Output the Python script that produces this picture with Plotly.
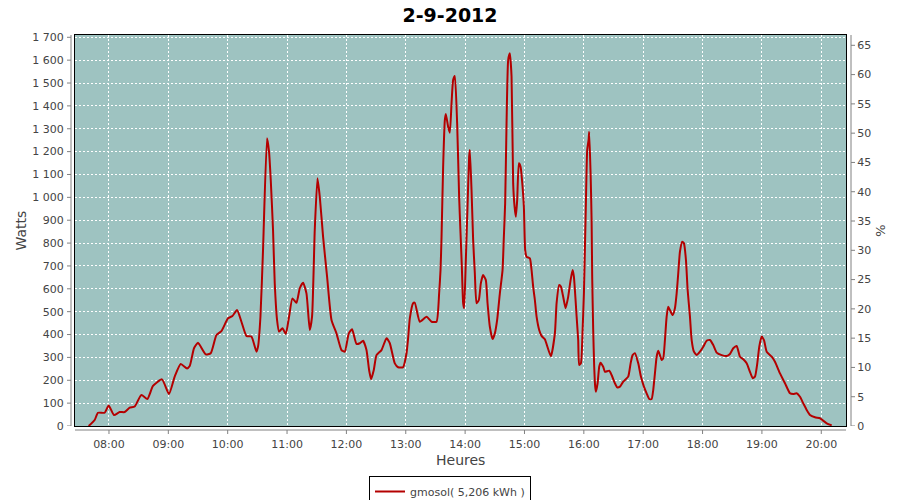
import plotly.graph_objects as go

# ---------------- data ----------------
day = "2012-09-02"
times = [
    "07:39:28", "07:45:32", "07:48:53", "07:55:39", "07:59:42", "08:05:04", "08:10:49", "08:15:53", "08:20:56", "08:25:59",
    "08:32:46", "08:38:50", "08:44:30", "08:53:36", "09:00:41", "09:06:26", "09:12:31", "09:18:53", "09:21:37", "09:25:58",
    "09:30:00", "09:37:47", "09:42:51", "09:48:37", "09:53:40", "10:00:20", "10:04:47", "10:09:27", "10:13:54", "10:18:57",
    "10:24:01", "10:29:04", "10:30:41", "10:33:07", "10:35:44", "10:39:47", "10:41:48", "10:43:32", "10:45:51", "10:47:34",
    "10:49:54", "10:51:55", "10:55:22", "10:58:42", "11:02:02", "11:05:28", "11:09:31", "11:12:51", "11:16:11", "11:19:38",
    "11:22:58", "11:25:17", "11:28:01", "11:30:45", "11:33:05", "11:36:25", "11:40:28", "11:44:55", "11:49:58", "11:55:02",
    "11:58:22", "12:02:25", "12:05:44", "12:10:11", "12:13:32", "12:16:52", "12:20:18", "12:22:56", "12:24:58", "12:27:41",
    "12:30:25", "12:35:29", "12:40:32", "12:43:52", "12:48:56", "12:52:16", "12:57:19", "13:00:46", "13:02:23", "13:04:06",
    "13:07:26", "13:09:09", "13:14:13", "13:20:59", "13:26:03", "13:31:06", "13:33:44", "13:35:09", "13:36:10", "13:37:47",
    "13:39:30", "13:40:31", "13:42:50", "13:44:33", "13:46:16", "13:47:53", "13:49:36", "13:51:56", "13:53:57", "13:55:22",
    "13:56:41", "13:58:00", "13:59:00", "14:00:43", "14:02:26", "14:04:04", "14:04:46", "14:06:29", "14:08:07", "14:09:49",
    "14:11:33", "14:13:52", "14:15:53", "14:18:13", "14:20:57", "14:22:40", "14:25:00", "14:27:44", "14:30:03", "14:32:23",
    "14:35:07", "14:37:50", "14:39:10", "14:40:28", "14:41:53", "14:43:31", "14:45:13", "14:46:56", "14:48:34", "14:49:59",
    "14:51:17", "14:52:37", "14:54:20", "14:56:03", "14:58:04", "14:59:23", "15:00:42", "15:02:07", "15:05:27", "15:07:10",
    "15:08:47", "15:10:31", "15:12:14", "15:14:52", "15:17:17", "15:20:37", "15:26:41", "15:30:44", "15:32:28", "15:35:05",
    "15:36:48", "15:39:08", "15:41:34", "15:44:11", "15:46:37", "15:48:38", "15:49:57", "15:52:41", "15:54:18", "15:55:19",
    "15:57:02", "15:58:45", "16:00:04", "16:01:04", "16:02:05", "16:03:24", "16:04:49", "16:05:25", "16:06:50", "16:07:51",
    "16:08:27", "16:09:28", "16:10:29", "16:11:29", "16:12:11", "16:13:55", "16:15:32", "16:16:57", "16:19:35", "16:21:18",
    "16:25:39", "16:28:04", "16:31:25", "16:33:44", "16:36:28", "16:39:49", "16:44:52", "16:47:17", "16:49:19", "16:51:38",
    "16:54:59", "16:57:43", "17:00:44", "17:03:28", "17:06:06", "17:08:32", "17:10:09", "17:11:52", "17:13:35", "17:15:12",
    "17:16:55", "17:18:38", "17:20:16", "17:21:59", "17:23:42", "17:25:19", "17:27:02", "17:29:46", "17:32:05", "17:33:49",
    "17:35:26", "17:37:09", "17:39:28", "17:41:11", "17:43:13", "17:44:56", "17:47:16", "17:48:59", "17:51:18", "17:54:02",
    "17:57:22", "18:00:43", "18:04:09", "18:07:29", "18:10:49", "18:14:16", "18:19:19", "18:24:23", "18:27:43", "18:31:03",
    "18:34:29", "18:37:50", "18:41:10", "18:44:36", "18:47:56", "18:50:40", "18:52:59", "18:55:19", "18:57:20", "18:59:46",
    "19:02:05", "19:04:49", "19:09:53", "19:13:13", "19:18:16", "19:23:20", "19:28:23", "19:31:44", "19:35:10", "19:38:30",
    "19:41:50", "19:45:17", "19:48:37", "19:53:40", "19:58:44", "20:02:04", "20:05:31", "20:10:34",
]
watts = [
    0, 26, 58, 58, 90, 48, 61, 61, 80, 85,
    136, 118, 175, 204, 140, 216, 271, 252, 262, 340,
    364, 313, 318, 398, 415, 471, 481, 507, 456, 394,
    391, 325, 347, 478, 770, 1258, 1200, 1076, 857, 624,
    464, 413, 427, 402, 478, 558, 539, 602, 627, 580,
    420, 478, 857, 1083, 1003, 828, 653, 464, 405, 332,
    325, 405, 423, 359, 362, 373, 332, 245, 205, 245,
    310, 332, 384, 362, 274, 257, 257, 318, 384, 471,
    537, 539, 456, 478, 456, 456, 580, 682, 828, 1134,
    1338, 1365, 1309, 1283, 1411, 1513, 1531, 1324, 1003, 843,
    697, 537, 515, 726, 959, 1178, 1207, 1032, 813, 668,
    537, 551, 624, 660, 638, 537, 434, 380, 405, 464,
    580, 682, 828, 974, 1324, 1600, 1630, 1528, 1061, 959,
    915, 988, 1149, 1134, 1047, 959, 770, 740, 733, 682,
    609, 551, 478, 420, 394, 379, 305, 405, 537, 617,
    610, 565, 515, 565, 638, 682, 653, 480, 376, 267,
    274, 420, 580, 770, 974, 1207, 1251, 1287, 1105, 901,
    653, 420, 259, 172, 150, 187, 259, 277, 259, 237,
    242, 223, 187, 169, 172, 194, 216, 274, 310, 318,
    274, 216, 172, 143, 118, 118, 157, 230, 303, 329,
    310, 289, 296, 376, 478, 522, 507, 485, 515, 580,
    668, 762, 806, 799, 726, 595, 478, 376, 325, 310,
    325, 347, 373, 376, 354, 321, 310, 306, 315, 340,
    350, 303, 292, 274, 237, 209, 216, 274, 347, 391,
    376, 325, 303, 281, 230, 187, 143, 140, 143, 128,
    99, 70, 48, 38, 34, 23, 12, 3,
]
series_name = "gmosol( 5,206 kWh )"
chart_title = "2-9-2012"

hour_ticks = ["08:00", "09:00", "10:00", "11:00", "12:00", "13:00", "14:00",
              "15:00", "16:00", "17:00", "18:00", "19:00", "20:00"]
watt_ticks = [0, 100, 200, 300, 400, 500, 600, 700, 800, 900, 1000,
              1100, 1200, 1300, 1400, 1500, 1600, 1700]
watt_tick_labels = ["0", "100", "200", "300", "400", "500", "600", "700", "800", "900",
                    "1 000", "1 100", "1 200", "1 300", "1 400", "1 500", "1 600", "1 700"]
pct_ticks = [0, 5, 10, 15, 20, 25, 30, 35, 40, 45, 50, 55, 60, 65]
pct_tick_labels = [str(v) for v in pct_ticks]

x_range = [day + " 07:25:40", day + " 20:25:00"]
watt_range = [0, 1710]
pct_range = [0, 66.76]

# ---------------- layout geometry ----------------
W, H = 900, 500
L, R, T, B = 75, 54, 35, 74
PW, PH = W - L - R, H - T - B

def px_x(p):
    return (p - L) / PW

def px_y(p):
    return (H - B - p) / PH

BG = "#9EC3C1"
LINE = "#B40000"
AX = "#808080"
TXT = "#444444"
FONT = "DejaVu Sans"

x_vals = [day + " " + t for t in times]

fig = go.Figure()
fig.add_trace(go.Scatter(
    x=x_vals, y=watts, mode="lines", name=series_name,
    line=dict(color=LINE, width=2, shape="spline", smoothing=0.5),
    yaxis="y",
))
# invisible trace bound to the % axis so it renders
fig.add_trace(go.Scatter(x=[x_vals[0]], y=[0], yaxis="y2", mode="lines",
                         showlegend=False, hoverinfo="skip",
                         line=dict(color="rgba(0,0,0,0)")))

shapes = []
shapes.append(dict(type="line", xref="paper", yref="paper", x0=px_x(71), x1=px_x(71),
                   y0=0, y1=1, line=dict(color=AX, width=1)))
shapes.append(dict(type="line", xref="paper", yref="paper", x0=0, x1=1,
                   y0=px_y(430), y1=px_y(430), line=dict(color=AX, width=1)))
shapes.append(dict(type="line", xref="paper", yref="paper", x0=px_x(851), x1=px_x(851),
                   y0=0, y1=1, line=dict(color=AX, width=1)))
for v in watt_ticks:
    shapes.append(dict(type="line", xref="paper", yref="y", x0=px_x(67), x1=px_x(71),
                       y0=v, y1=v, line=dict(color=AX, width=1)))
for v in pct_ticks:
    shapes.append(dict(type="line", xref="paper", yref="y2", x0=px_x(851), x1=px_x(855),
                       y0=v, y1=v, line=dict(color=AX, width=1)))
for h in hour_ticks:
    shapes.append(dict(type="line", xref="x", yref="paper", x0=day + " " + h, x1=day + " " + h,
                       y0=px_y(430), y1=px_y(434), line=dict(color=AX, width=1)))

fig.update_layout(
    width=W, height=H,
    margin=dict(l=L, r=R, t=T, b=B, autoexpand=False),
    paper_bgcolor="white", plot_bgcolor=BG,
    font=dict(family=FONT, size=11, color=TXT),
    title=dict(text="<b>" + chart_title + "</b>", x=0.5, xref="container", xanchor="center",
               y=1 - 15 / H, yref="container", yanchor="middle",
               font=dict(family=FONT, size=19, color="black")),
    xaxis=dict(type="date", range=x_range,
               tickvals=[day + " " + h for h in hour_ticks], ticktext=hour_ticks,
               ticks="outside", ticklen=8, tickcolor="rgba(0,0,0,0)",
               showgrid=True, gridcolor="white", griddash="2px,2px", gridwidth=1,
               showline=True, linecolor="black", linewidth=1, mirror=True,
               zeroline=False, tickfont=dict(size=11, color=TXT), automargin=False),
    yaxis=dict(range=watt_range, tickvals=watt_ticks, ticktext=watt_tick_labels,
               ticks="outside", ticklen=8, tickcolor="rgba(0,0,0,0)",
               showgrid=True, gridcolor="white", griddash="2px,2px", gridwidth=1,
               showline=True, linecolor="black", linewidth=1, mirror=True,
               zeroline=False, tickfont=dict(size=11, color=TXT), automargin=False),
    yaxis2=dict(range=pct_range, overlaying="y", side="right",
                tickvals=pct_ticks, ticktext=pct_tick_labels,
                ticks="outside", ticklen=8, tickcolor="rgba(0,0,0,0)",
                showgrid=False, zeroline=False, showline=False,
                tickfont=dict(size=11, color=TXT), automargin=False),
    showlegend=True,
    legend=dict(orientation="h", xref="paper", x=px_x(450), xanchor="center",
                yref="paper", y=px_y(476), yanchor="top",
                bordercolor="black", borderwidth=1, bgcolor="white",
                font=dict(family=FONT, size=11, color=TXT),
                itemwidth=30, tracegroupgap=0),
    annotations=[
        dict(text="Watts", xref="paper", yref="paper", x=px_x(20), y=0.5,
             showarrow=False, textangle=-90, xanchor="center", yanchor="middle",
             font=dict(family=FONT, size=14, color=TXT)),
        dict(text="Heures", xref="paper", yref="paper", x=0.5, y=px_y(460),
             showarrow=False, xanchor="center", yanchor="middle",
             font=dict(family=FONT, size=14, color=TXT)),
        dict(text="%", xref="paper", yref="paper", x=px_x(880), y=0.5,
             showarrow=False, textangle=90, xanchor="center", yanchor="middle",
             font=dict(family=FONT, size=13, color=TXT)),
    ],
    shapes=shapes,
)

fig.write_html("out.html", config={"displayModeBar": False},
               post_script="document.body.style.margin='0';document.body.style.overflow='hidden';")
